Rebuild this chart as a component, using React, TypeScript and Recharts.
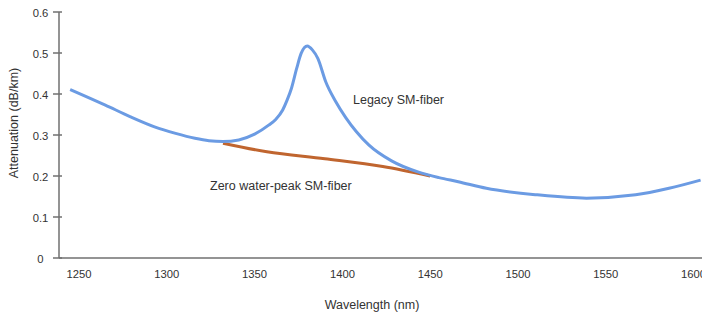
import React from 'react';
import { LineChart, Line, XAxis, YAxis, Customized } from 'recharts';

const legacyWavelength = [1245, 1265, 1279, 1293, 1305, 1316, 1324, 1332, 1341, 1350, 1358, 1362, 1366, 1368.5, 1371, 1374, 1376.5, 1380, 1383, 1386, 1390.5, 1396, 1402, 1408, 1415, 1428, 1443, 1455, 1466, 1482, 1511, 1539, 1567, 1586, 1604];
const legacyAttenuation = [0.411, 0.373, 0.345, 0.32, 0.304, 0.292, 0.286, 0.284, 0.288, 0.302, 0.324, 0.338, 0.361, 0.385, 0.414, 0.463, 0.499, 0.517, 0.507, 0.487, 0.43, 0.383, 0.342, 0.308, 0.276, 0.237, 0.21, 0.196, 0.186, 0.17, 0.154, 0.146, 0.154, 0.17, 0.19];

const zeroPeakWavelength = [1332, 1357, 1390, 1423, 1450];
const zeroPeakAttenuation = [0.28, 0.259, 0.242, 0.223, 0.2];

const xTicks = [1250, 1300, 1350, 1400, 1450, 1500, 1550, 1600];
const yTicks = [0, 0.1, 0.2, 0.3, 0.4, 0.5, 0.6];

const legacyData = legacyWavelength.map((wl, i) => ({ wl, att: legacyAttenuation[i] }));
const zeroPeakData = zeroPeakWavelength.map((wl, i) => ({ wl, att: zeroPeakAttenuation[i] }));

const FONT = '"Liberation Sans", Arial, Helvetica, sans-serif';
const AXIS_COLOR = '#707070';
const TEXT_COLOR = '#333';

const XTick = (props: any) => {
  const { x, y, payload } = props;
  return (
    <text x={x} y={y + 20} textAnchor="middle" fontSize={11.25} fontFamily={FONT} fill={TEXT_COLOR}>
      {payload.value}
    </text>
  );
};

const YTick = (props: any) => {
  const { x, y, payload } = props;
  return (
    <g>
      <line x1={x - 6} x2={x + 3} y1={y} y2={y} stroke={AXIS_COLOR} strokeWidth={1.5} />
      <text x={x - 18.5} y={y + 4.5} textAnchor="middle" fontSize={11.25} fontFamily={FONT} fill={TEXT_COLOR}>
        {String(payload.value)}
      </text>
    </g>
  );
};

const Annotations = () => (
  <g fontFamily={FONT} fill={TEXT_COLOR} fontSize={12.5}>
    <text x={18} y={123} textAnchor="middle" transform="rotate(-90 18 123)">Attenuation (dB/km)</text>
    <text x={372} y={309} textAnchor="middle">Wavelength (nm)</text>
    <text x={353} y={104}>Legacy SM-fiber</text>
    <text x={210} y={189.5}>Zero water-peak SM-fiber</text>
  </g>
);

export default function App() {
  return (
    <div style={{ position: 'absolute', left: 0, top: 0, width: 702, height: 315, background: '#fff' }}>
      <LineChart width={702} height={315} margin={{ top: 12, right: 0, bottom: 0, left: 0 }}>
        <XAxis
          type="number"
          dataKey="wl"
          domain={[1238.6, 1604.8]}
          ticks={xTicks}
          allowDataOverflow
          height={57}
          tickSize={0}
          tickMargin={0}
          tickLine={false}
          axisLine={{ stroke: AXIS_COLOR, strokeWidth: 1.5 }}
          tick={<XTick />}
          interval={0}
        />
        <YAxis
          type="number"
          dataKey="att"
          domain={[0, 0.6]}
          ticks={yTicks}
          width={59}
          tickSize={0}
          tickMargin={0}
          tickLine={false}
          axisLine={{ stroke: AXIS_COLOR, strokeWidth: 1.5 }}
          tick={<YTick />}
          interval={0}
        />
        <Line
          data={zeroPeakData}
          dataKey="att"
          type="monotone"
          stroke="#c0652f"
          strokeWidth={3}
          dot={false}
          isAnimationActive={false}
        />
        <Line
          data={legacyData}
          dataKey="att"
          type="monotone"
          stroke="#6b9be3"
          strokeWidth={3}
          dot={false}
          isAnimationActive={false}
        />
        <Customized component={<Annotations />} />
      </LineChart>
    </div>
  );
}
